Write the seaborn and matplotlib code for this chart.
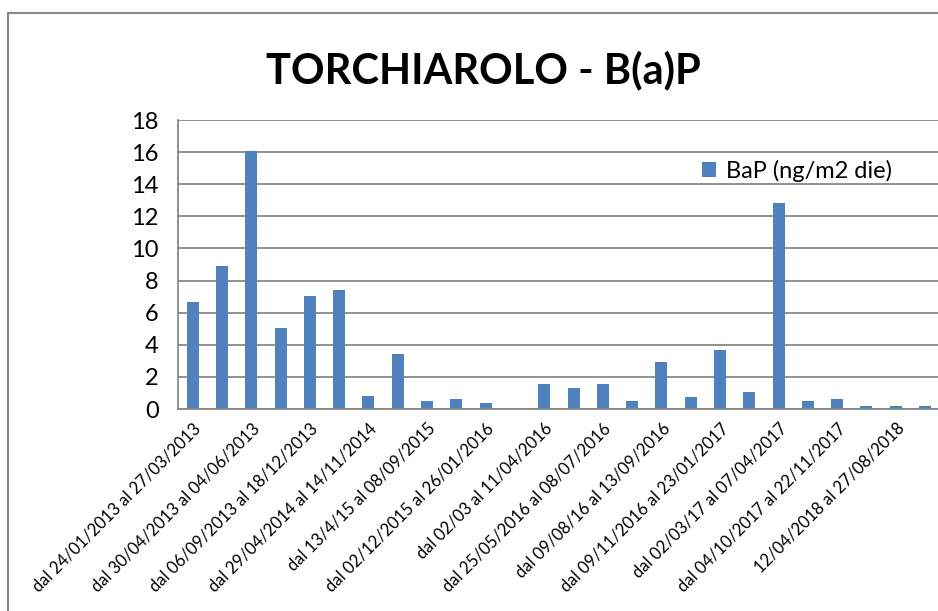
import pandas as pd
import seaborn as sns
import matplotlib.pyplot as plt
from matplotlib.patches import Rectangle

# periods (only every other one is labelled on the axis)
periods = [
    "dal 24/01/2013 al 27/03/2013", "",
    "dal 30/04/2013 al 04/06/2013", "",
    "dal 06/09/2013 al 18/12/2013", "",
    "dal 29/04/2014 al 14/11/2014", "",
    "dal 13/4/15 al 08/09/2015", "",
    "dal 02/12/2015 al 26/01/2016", "",
    "dal 02/03 al 11/04/2016", "",
    "dal 25/05/2016 al 08/07/2016", "",
    "dal 09/08/16 al 13/09/2016", "",
    "dal 09/11/2016 al 23/01/2017", "",
    "dal 02/03/17 al 07/04/2017", "",
    "dal 04/10/2017 al 22/11/2017", "",
    "12/04/2018 al 27/08/2018", "",
]

# BaP deposition values (ng/m2 die)
bap = [6.65, 8.88, 16.08, 5.03, 7.03, 7.42, 0.82, 3.41, 0.47, 0.62, 0.35, 0.0, 1.57,
       1.32, 1.57, 0.47, 2.93, 0.72, 3.66, 1.05, 12.8, 0.47, 0.62, 0.21, 0.21, 0.21]

yticks = list(range(0, 20, 2))

df = pd.DataFrame({"idx": range(len(bap)), "BaP": bap})

sns.set_style("white")
plt.rcParams["font.family"] = ["Lato", "DejaVu Sans"]
plt.rcParams["text.color"] = "black"
plt.rcParams["xtick.labelcolor"] = "black"
plt.rcParams["ytick.labelcolor"] = "black"

fig = plt.figure(figsize=(9.38, 6.11), dpi=100)
ax = fig.add_axes([0.1898, 0.3306, 0.812, 0.473])

sns.barplot(data=df, x="idx", y="BaP", color="#4F81BD", width=0.41,
            saturation=1, linewidth=0, label="BaP (ng/m2 die)", ax=ax)

grey = "#888888"
ax.set_ylim(0, 18)
ax.set_xlim(-0.5, len(bap) - 0.5)
ax.set_yticks(yticks)
ax.tick_params(axis="y", labelsize=17, length=6, width=1.3, color=grey, direction="out", pad=8)
ax.yaxis.grid(True, color=grey, linewidth=1.3)
ax.set_axisbelow(True)

# labels on every other category, tick marks between categories
lab_pos = [i for i, p in enumerate(periods) if p]
ax.set_xticks(lab_pos)
ax.set_xticklabels([periods[i] for i in lab_pos], rotation=45, ha="right",
                   rotation_mode="anchor", fontsize=12)
ax.tick_params(axis="x", which="major", length=0, pad=8)
ax.set_xticks([i - 0.5 for i in range(len(bap) + 1)], minor=True)
ax.tick_params(axis="x", which="minor", length=6, width=1.3, color=grey, direction="out")

for s in ["top", "right"]:
    ax.spines[s].set_visible(False)
for s in ["left", "bottom"]:
    ax.spines[s].set_color(grey)
    ax.spines[s].set_linewidth(1.3)

ax.set_xlabel("")
ax.set_ylabel("")

ax.legend(loc="upper left", bbox_to_anchor=(0.66, 0.935), frameon=False,
          fontsize=17, handlelength=0.6, handleheight=0.6, handletextpad=0.4)

fig.text(0.515, 0.885, "TORCHIAROLO - B(a)P", ha="center", va="center",
         fontsize=30, fontweight="bold")

# chart area border
fig.patches.append(Rectangle((0.0085, -0.05), 1.1, 0.05 + 0.9787, transform=fig.transFigure,
                             fill=False, edgecolor=grey, linewidth=1.5))

fig.savefig("out.png", dpi=100)
